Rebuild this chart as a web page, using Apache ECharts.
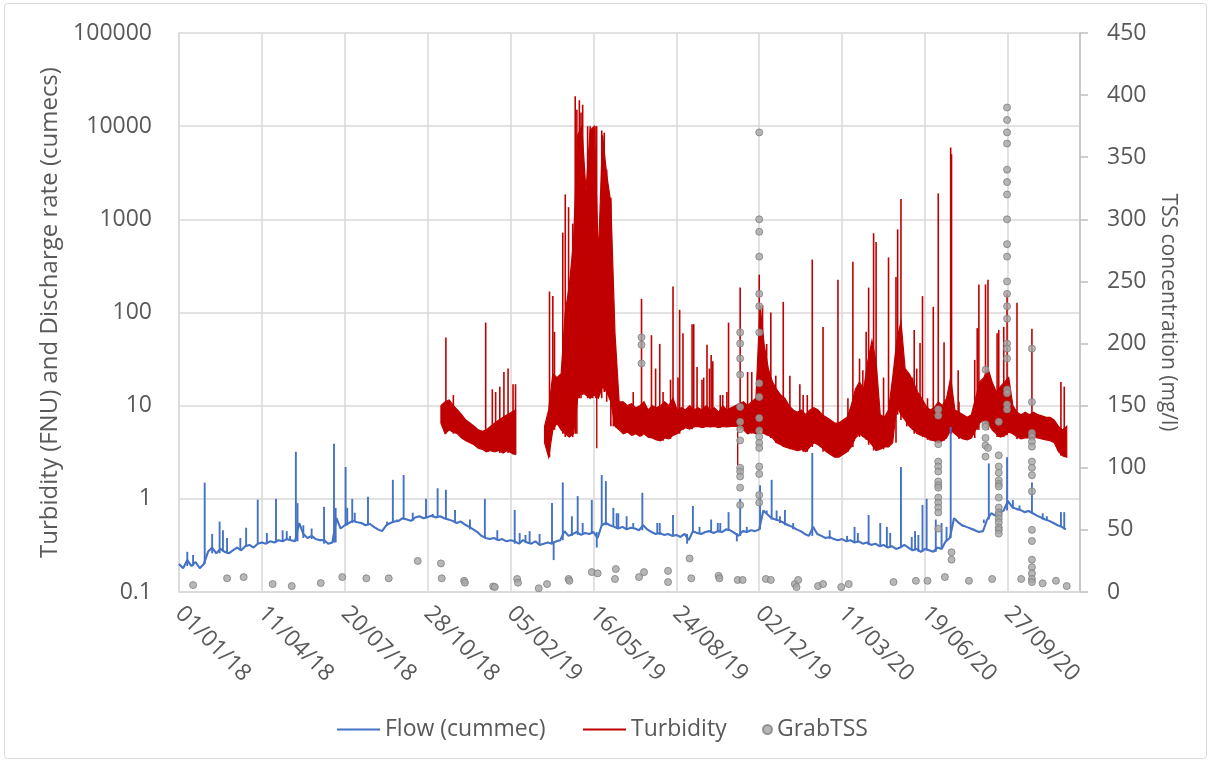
<!DOCTYPE html>
<html>
<head>
<meta charset="utf-8">
<script src="https://cdn.jsdelivr.net/npm/echarts@6/dist/echarts.min.js"></script>
<style>
  html, body { margin: 0; padding: 0; background: #ffffff; }
  #chart { width: 1211px; height: 764px; }
</style>
</head>
<body>
<div id="chart"></div>
<script>
// Day 0 of the x axis is 1 January 2018; all series are keyed by day number.
const START_MS = Date.UTC(2018, 0, 1);
const DAY_MS = 86400000;
const xMaxDay = 1087;
const xTickDays = 100;
const yTickLabels = ['0.1', '1', '10', '100', '1000', '10000', '100000'];

// Flow (cumecs): baseline every 5 days from day 0, plus individual storm peaks / dips.
const flowStep = 5;
const flowBase = [
  0.20, 0.18, 0.22, 0.19, 0.21, 0.18, 0.20,                 // day 0
  0.27, 0.30, 0.26, 0.29, 0.27, 0.26, 0.28,                 // day 35
  0.30, 0.28, 0.31, 0.32, 0.30,                             // day 70
  0.33, 0.34, 0.33, 0.35, 0.34,                             // day 95
  0.36, 0.35, 0.37, 0.36, 0.35,                             // day 120
  0.55, 0.42, 0.38, 0.40, 0.37, 0.36,                       // day 145
  0.36, 0.33, 0.34,                                         // day 175
  0.62, 0.48, 0.52, 0.55,                                   // day 190
  0.58, 0.56, 0.55, 0.52, 0.54, 0.50, 0.47, 0.45, 0.52, 0.55, 0.57,          // day 210
  0.58, 0.62, 0.60, 0.58, 0.63, 0.65, 0.62, 0.64, 0.66, 0.63, 0.65, 0.62,    // day 265
  0.60, 0.58, 0.55, 0.57, 0.53, 0.50, 0.47, 0.44,           // day 325
  0.40, 0.38, 0.37, 0.38, 0.36, 0.37, 0.35, 0.36,           // day 365
  0.35, 0.33, 0.36, 0.34, 0.33, 0.35, 0.32, 0.33,           // day 405
  0.34, 0.33, 0.35, 0.36, 0.45, 0.40, 0.42, 0.44, 0.41, 0.43, 0.42, 0.44,    // day 445
  0.38, 0.52, 0.55, 0.52, 0.50, 0.48, 0.50, 0.47, 0.49, 0.48, 0.46, 0.52,    // day 505
  0.47, 0.44, 0.42, 0.43, 0.41, 0.42, 0.40, 0.41, 0.39, 0.42, 0.36, 0.45,    // day 565
  0.43, 0.42, 0.44, 0.45, 0.43, 0.45, 0.44, 0.47, 0.46, 0.43, 0.40,          // day 625
  0.45, 0.44, 0.46, 0.45, 0.47,                             // day 680
  0.75, 0.68, 0.62, 0.60, 0.58, 0.55, 0.52, 0.50, 0.47, 0.45,                // day 705
  0.42, 0.40, 0.50, 0.42, 0.40, 0.38, 0.39, 0.37, 0.36, 0.37, 0.35, 0.36,
  0.34, 0.35, 0.33, 0.34, 0.32, 0.33, 0.31, 0.32, 0.30, 0.31, 0.29, 0.30,    // day 755
  0.32, 0.30, 0.28, 0.29, 0.27, 0.29, 0.28, 0.27, 0.30, 0.29, 0.35, 0.38,    // day 875
  0.62, 0.56, 0.52, 0.50, 0.48, 0.46, 0.44, 0.45,           // day 935
  0.60, 0.70, 0.66, 0.72, 0.75,                             // day 975
  0.95, 0.82, 0.78, 0.76, 0.72, 0.74,                       // day 1000
  0.70, 0.66, 0.63, 0.60, 0.58, 0.55, 0.52, 0.50, 0.47      // day 1030
];
const flowPeaks = [
  [10, 0.27], [17, 0.25], [31, 1.49], [40, 0.42], [49, 0.57], [53, 0.46], [58, 0.38],
  [74, 0.38], [81, 0.49], [95, 0.98], [106, 0.43], [117, 1.0], [125, 0.46], [130, 0.45],
  [134, 0.40], [141, 3.2], [143, 0.9], [150, 0.52], [160, 0.48], [175, 0.82], [187, 3.9],
  [189, 0.8], [201, 2.2], [203, 0.8], [209, 1.0], [212, 0.71], [228, 1.05], [251, 0.57],
  [258, 1.6], [263, 0.6], [271, 1.8], [282, 0.71], [298, 1.0], [306, 0.69], [312, 1.3],
  [322, 1.25], [333, 0.76], [351, 0.6], [369, 1.0], [384, 0.46], [405, 0.76], [411, 0.43],
  [418, 0.41], [423, 0.45], [435, 0.42], [450, 0.9], [452, 0.22], [463, 1.5], [474, 0.65],
  [481, 1.07], [487, 0.55], [498, 0.97], [504, 0.3], [510, 1.8], [515, 1.55], [524, 0.8],
  [528, 0.7], [530, 0.7], [540, 0.65], [548, 0.55], [559, 1.16], [577, 0.55], [580, 0.55],
  [596, 0.67], [613, 0.33], [620, 0.84], [628, 0.5], [642, 0.6], [650, 0.55], [653, 0.55],
  [663, 0.72], [673, 0.35], [677, 1.0], [685, 0.5], [701, 1.4], [709, 0.7], [715, 1.6],
  [721, 0.75], [725, 0.65], [731, 0.76], [741, 0.55], [764, 3.1], [785, 0.46], [806, 0.4],
  [815, 0.5], [819, 0.43], [832, 0.67], [846, 0.55], [854, 0.5], [858, 0.43], [871, 2.2],
  [884, 0.39], [888, 0.45], [892, 0.41], [897, 0.86], [902, 1.0], [913, 0.6], [920, 0.55],
  [926, 0.5], [931, 5.9], [946, 0.5], [958, 0.46], [971, 0.55], [977, 2.4], [999, 2.8],
  [1006, 0.97], [1014, 0.85], [1029, 1.5], [1042, 0.7], [1047, 0.65], [1064, 0.72], [1068, 0.72]
];

// Turbidity (FNU): upper and lower edge of the daily band every 5 days from day 316
// (null = logger offline), plus single-reading peaks and dips.
const turbStartDay = 316;
const turbStep = 5;
const turbHigh = [
  10, 11, 11.5, 10, 9, 8, 7, 6.5, 6, 5.5, 5.3, 5.5, 6, 6.5, 7, 7.5, 8, 8.5, 9,           // day 316
  null, null, null, null, null, null,                                                    // day 411
  6, 9, 22, 20, 22, 100, 200, 600, 8000, 10000, 2000, 9000, 10000, 400, 8000, 3000, 1500, 60, 11,  // day 441
  11, 10, 10.5, 9.5, 10, 11, 9, 10, 9.5, 10, 11, 10, 12, 9, 9.5, 9, 10, 9, 9.5, 9,
  10, 9, 9.5, 8.5, 10, 9, 9.5, 10, 10.5, 11, 10, 11, 12,                                 // day 536
  120, 45, 25, 18, 15, 13, 12, 10, 9, 8.5, 9, 8, 9,                                      // day 701
  9.5, 9, 8, 7.5, 7, 6.5, 6.5, 7, 7.5, 10, 15, 18, 15, 30, 50, 30, 8,                    // day 766
  7.5, 9, 20, 50, 80, 25, 22, 18, 14, 12, 10, 9, 9.5, 11, 10, 12, 20,                    // day 851
  9, 8.5, 8, 7.5, 8, 12, 18, 20, 25, 18, 14, 16, 18, 20,                                 // day 936
  10, 8.5, 8, 8.5, 8, 8.5, 8, 7.8, 7.5, 7.5, 7, 6, 5.5, 6                                // day 1006
];
const turbLow = [
  6.5, 5.0, 5.5, 5.2, 5.0, 4.5, 4.2, 4.0, 3.8, 3.5, 3.4, 3.2, 3.3, 3.2, 3.3, 3.1, 3.3, 3.1, 3.0,
  null, null, null, null, null, null,
  4.0, 2.8, 5.5, 6.5, 5.5, 5.0, 4.6, 5.0, 12, 14, 13, 12, 13, 12, 16, 14, 11, 6, 5.5,
  5.0, 5.2, 4.8, 5, 4.7, 5, 4.6, 4.5, 4.3, 4.2, 4.5, 4.4, 4.8, 5.0, 5.5, 5.8, 5.6, 5.9, 6, 5.8,
  6, 5.9, 6, 5.8, 6, 5.9, 6, 6, 6, 5.5, 5.0, 5.2, 5.0,
  5.5, 5, 4.8, 4.5, 4.0, 3.8, 3.6, 3.5, 3.4, 3.3, 3.4, 3.2, 3.6,
  4.0, 3.8, 3.5, 3.2, 3.0, 2.8, 2.8, 3.0, 3.2, 3.6, 4.5, 5, 4.6, 4.3, 3.8, 3.3, 3.4,
  3.6, 3.6, 4.0, 10, 8, 7, 6, 5.5, 5.0, 4.8, 4.6, 4.3, 4.2, 4.0, 4.2, 4.5, 5.5,
  5.0, 4.6, 4.4, 4.3, 4.5, 5.5, 6.5, 7, 6.5, 5.5, 5.0, 4.6, 4.8, 5.2,
  5.0, 4.6, 4.4, 4.5, 4.5, 4.6, 4.5, 4.4, 4.3, 4.2, 4.0, 3.2, 2.9, 2.8
];
const turbPeaks = [
  [322, 54], [331, 13], [370, 78], [378, 15], [382, 14], [387, 16], [392, 23], [397, 25],
  [403, 17], [406, 17],
  [447, 168], [451, 150], [453, 62], [463, 720], [466, 1850], [470, 1350], [475, 900],
  [478, 20900], [480, 15000], [483, 19000], [485, 14000], [487, 17000], [493, 10000],
  [496, 10000], [499, 9500], [503, 10000], [510, 9000], [513, 8500], [516, 3400],
  [521, 1700], [524, 55],
  [548, 14], [558, 140], [570, 57], [575, 25], [580, 46], [584, 14], [593, 19], [596, 190],
  [602, 20], [604, 107], [608, 60], [619, 75], [621, 75], [625, 26], [631, 19], [633, 20],
  [637, 45], [640, 25], [642, 35], [644, 30], [653, 13], [656, 13], [661, 14], [663, 78],
  [677, 185], [686, 23], [691, 23], [700, 255], [704, 120], [709, 46], [714, 100], [720, 21],
  [729, 130], [737, 21], [749, 17], [753, 13], [758, 13], [764, 370], [777, 70], [795, 225],
  [807, 12], [813, 350], [821, 32], [825, 24], [829, 62], [832, 185], [838, 710], [841, 570],
  [850, 20], [856, 390], [865, 240], [867, 780], [871, 1650], [878, 23], [885, 20], [887, 65],
  [890, 25], [894, 47], [897, 150], [903, 12], [910, 115], [916, 1900], [923, 48], [931, 5900],
  [932, 5000], [940, 24], [941, 11], [960, 31], [963, 68], [965, 200], [973, 200], [976, 225],
  [987, 60], [989, 65], [995, 70], [999, 160], [1011, 127], [1029, 67], [1064, 18], [1068, 16]
];
const turbDips = [[504, 3.5], [674, 2.3]];

// Grab-sample TSS (mg/l): [day, concentration].
const grabTSS = [
  [17, 5.6], [58, 11], [78, 12], [113, 6.4], [136, 4.8], [171, 7.2], [197, 12], [226, 11],
  [253, 11], [288, 25], [316, 23], [317, 11], [344, 9], [345, 7.5], [379, 4.5], [381, 4],
  [408, 10.5], [409, 7.5], [434, 3], [444, 6.4], [470, 10.5], [471, 9], [498, 16], [505, 15],
  [526, 10.5], [527, 18.5], [555, 12], [561, 16], [590, 17], [590, 8], [616, 27], [618, 11],
  [651, 13], [652, 11], [674, 9.7], [680, 9.7], [708, 10.5], [714, 9.7], [743, 6.4],
  [745, 4], [747, 9.7], [771, 4.8], [777, 6.4], [799, 4], [808, 6.4], [862, 8], [889, 9],
  [903, 9], [924, 12], [953, 9], [981, 10.5], [1016, 10.5], [1042, 7], [1058, 9], [1071, 4.8],
  [558, 205], [558, 199], [558, 184],
  [677, 209], [677, 200], [677, 188], [677, 175], [677, 149], [677, 137], [677, 131],
  [677, 122], [677, 100], [677, 97], [677, 93], [677, 84], [677, 70],
  [700, 370], [700, 300], [700, 290], [700, 270], [700, 240], [700, 230], [700, 209],
  [700, 168], [700, 157], [700, 140], [700, 130], [700, 125], [700, 120], [700, 116],
  [700, 101], [700, 95], [700, 78], [700, 72],
  [916, 147], [916, 142], [916, 119], [916, 105], [916, 101], [916, 97], [916, 89],
  [916, 86], [916, 84], [916, 76], [916, 72], [916, 68], [916, 64], [916, 51],
  [932, 32], [932, 26],
  [973, 179], [973, 135], [973, 133], [973, 124], [973, 118], [973, 109], [976, 116],
  [989, 137], [989, 110], [989, 101], [989, 96], [989, 90], [989, 87], [989, 85], [989, 76],
  [989, 68], [989, 64], [989, 62], [989, 59], [989, 56], [989, 52], [989, 50], [989, 47],
  [999, 390], [999, 380], [999, 370], [999, 361], [999, 340], [999, 330], [999, 320],
  [999, 300], [999, 280], [999, 270], [999, 250], [999, 240], [999, 230], [999, 220],
  [999, 200], [999, 196], [999, 188], [999, 163], [999, 160], [999, 151], [999, 147],
  [1029, 196], [1029, 153], [1029, 128], [1029, 125], [1029, 121], [1029, 117], [1029, 105],
  [1029, 100], [1029, 94], [1029, 81], [1029, 50], [1029, 41], [1029, 26], [1029, 20],
  [1029, 15], [1029, 10.5], [1029, 8]
];

const FLOW_COLOR = '#4472C4';
const TURB_COLOR = '#C00000';

// Values of a regularly sampled series at the two samples around a day.
function neighbours(start, step, values, day) {
  const i0 = Math.floor((day - start) / step);
  return [values[i0], values[i0 + 1]].filter(v => v != null);
}

// Vertical strokes from a regularly sampled line out to single readings.
function readingStrokes(api, start, step, values, readings, color, width) {
  return readings.map(([d, v]) => {
    const near = neighbours(start, step, values, d);
    const anchor = v >= Math.max(...near) ? Math.min(...near) : Math.max(...near);
    const a = api.coord([d, anchor]);
    const b = api.coord([d, v]);
    return {
      type: 'line', shape: { x1: a[0], y1: a[1], x2: b[0], y2: b[1] },
      style: { stroke: color, lineWidth: width }
    };
  });
}

function renderFlowPeaks(params, api) {
  return { type: 'group', children: readingStrokes(api, 0, flowStep, flowBase, flowPeaks, FLOW_COLOR, 1.9) };
}

// Filled turbidity band (one polygon per logger run) plus its peaks and dips.
function renderTurbidity(params, api) {
  const runs = [];
  let run = [];
  turbHigh.forEach((h, i) => {
    if (h == null) { if (run.length) runs.push(run); run = []; }
    else run.push(i);
  });
  if (run.length) runs.push(run);
  const children = runs.map(idx => {
    const top = idx.map(i => api.coord([turbStartDay + i * turbStep, turbHigh[i]]));
    const bottom = idx.slice().reverse().map(i => api.coord([turbStartDay + i * turbStep, turbLow[i]]));
    return {
      type: 'polygon', shape: { points: top.concat(bottom) },
      style: { fill: TURB_COLOR, stroke: TURB_COLOR, lineWidth: 1.2 }
    };
  });
  return {
    type: 'group',
    children: children
      .concat(readingStrokes(api, turbStartDay, turbStep, turbLow, turbPeaks, TURB_COLOR, 1.6))
      .concat(readingStrokes(api, turbStartDay, turbStep, turbHigh, turbDips, TURB_COLOR, 1.4))
  };
}

function dayLabel(v) {
  const d = new Date(START_MS + Math.round(v) * DAY_MS);
  const p = n => String(n).padStart(2, '0');
  return p(d.getUTCDate()) + '/' + p(d.getUTCMonth() + 1) + '/' + p(d.getUTCFullYear() % 100);
}

const FONT = '"Open Sans", "Liberation Sans", sans-serif';
const TEXT = '#595959';
const GRID = '#d9d9d9';

const chart = echarts.init(document.getElementById('chart'), null, { renderer: 'canvas' });
chart.setOption({
  animation: false,
  backgroundColor: '#ffffff',
  textStyle: { fontFamily: FONT, color: TEXT },
  graphic: [{
    type: 'rect', silent: true,
    shape: { x: 4.5, y: 3.5, width: 1202, height: 755, r: 3 },
    style: { fill: 'none', stroke: '#d9d9d9', lineWidth: 1 }
  }],
  grid: { left: 179, right: 131, top: 33, bottom: 172, containLabel: false },
  legend: [
    {
      left: 332, top: 713, itemWidth: 43, itemHeight: 2, itemGap: 0,
      data: [{ name: 'Flow (cummec)', icon: 'rect' }],
      textStyle: { fontFamily: FONT, fontSize: 23, color: TEXT }
    },
    {
      left: 578, top: 713, itemWidth: 43, itemHeight: 2, itemGap: 0,
      data: [{ name: 'Turbidity', icon: 'rect' }],
      textStyle: { fontFamily: FONT, fontSize: 23, color: TEXT }
    },
    {
      left: 757, top: 713, itemWidth: 9, itemHeight: 9, itemGap: 0,
      data: [{ name: 'GrabTSS', icon: 'circle' }],
      textStyle: { fontFamily: FONT, fontSize: 23, color: TEXT }
    }
  ],
  xAxis: {
    type: 'value', min: 0, max: xMaxDay, interval: xTickDays,
    axisLine: { show: true, lineStyle: { color: GRID, width: 1.5 } },
    axisTick: { show: false },
    splitLine: { show: true, lineStyle: { color: GRID, width: 1.5 } },
    axisLabel: {
      rotate: -45, margin: 18, showMaxLabel: false,
      fontFamily: FONT, fontSize: 23, color: TEXT,
      formatter: dayLabel
    }
  },
  yAxis: [
    {
      type: 'log', logBase: 10, min: 0.1, max: 100000, splitNumber: 6,
      name: 'Turbidity (FNU) and Discharge rate (cumecs)',
      nameLocation: 'middle', nameGap: 114, nameRotate: 90,
      nameTextStyle: { fontFamily: FONT, fontSize: 24, color: TEXT },
      axisLine: { show: true, lineStyle: { color: GRID, width: 1.5 } },
      axisTick: { show: false },
      splitLine: { show: true, lineStyle: { color: GRID, width: 1.5 } },
      axisLabel: {
        margin: 27, fontFamily: FONT, fontSize: 23, color: TEXT,
        formatter: v => yTickLabels[Math.round(Math.log10(v)) + 1]
      }
    },
    {
      type: 'value', min: 0, max: 450, interval: 50, position: 'right',
      name: 'TSS concentration (mg/l)',
      nameLocation: 'middle', nameGap: 76, nameRotate: -90,
      nameTextStyle: { fontFamily: FONT, fontSize: 21, color: TEXT },
      axisLine: { show: true, lineStyle: { color: '#bfbfbf', width: 1.5 } },
      axisTick: { show: true, length: 8, lineStyle: { color: '#bfbfbf', width: 1.5 } },
      splitLine: { show: false },
      axisLabel: { margin: 27, fontFamily: FONT, fontSize: 23, color: TEXT }
    }
  ],
  series: [
    {
      name: 'Turbidity', type: 'custom', yAxisIndex: 0, z: 2, silent: true,
      itemStyle: { color: TURB_COLOR },
      data: [[turbStartDay, turbHigh[0]]],
      renderItem: renderTurbidity
    },
    {
      name: 'Flow (cummec)', type: 'line', yAxisIndex: 0,
      data: flowBase.map((v, i) => [i * flowStep, v]),
      symbol: 'none', showSymbol: false, z: 3,
      itemStyle: { color: FLOW_COLOR },
      lineStyle: { color: FLOW_COLOR, width: 2.1 }
    },
    {
      name: 'Flow (cummec)', type: 'custom', yAxisIndex: 0, z: 3, silent: true,
      itemStyle: { color: FLOW_COLOR },
      data: [[0, flowBase[0]]],
      renderItem: renderFlowPeaks
    },
    {
      name: 'GrabTSS', type: 'scatter', data: grabTSS, yAxisIndex: 1,
      symbol: 'circle', symbolSize: 7, z: 4,
      itemStyle: { color: '#a5a5a5', borderColor: '#7f7f7f', borderWidth: 1 }
    }
  ]
});
</script>
</body>
</html>
